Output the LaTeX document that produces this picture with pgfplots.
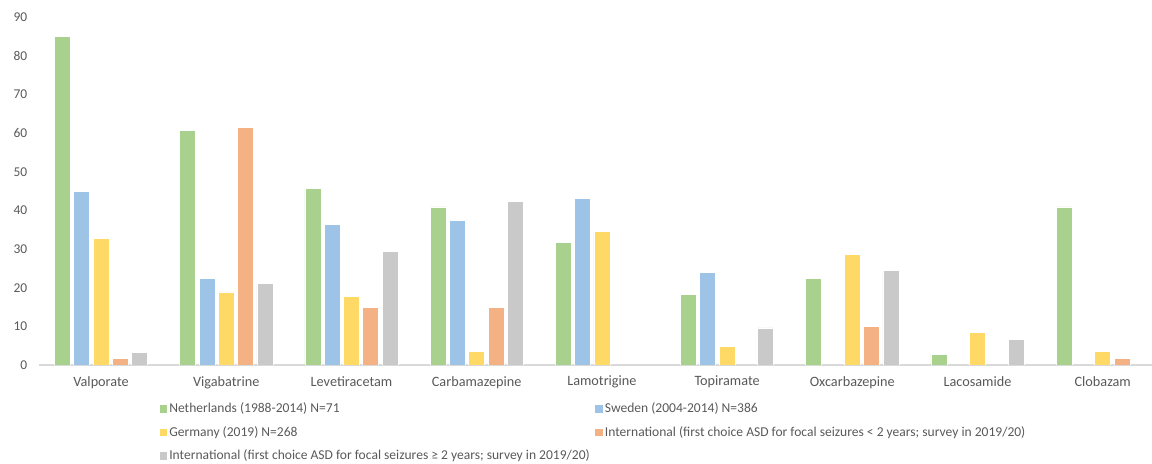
\documentclass[border=0pt]{standalone}
\usepackage{pgfplots}
\pgfplotsset{compat=1.18}
\usepackage{fontspec}
\setmainfont{Carlito}
\definecolor{cgreen}{HTML}{A9D18E}
\definecolor{cblue}{HTML}{9DC3E6}
\definecolor{cyellow}{HTML}{FFD966}
\definecolor{corange}{HTML}{F4B183}
\definecolor{cgray}{HTML}{C9C9C9}
\definecolor{ctext}{HTML}{595959}
\definecolor{cline}{HTML}{D9D9D9}
\begin{document}
\begin{tikzpicture}[x=1bp,y=1bp]
\begin{axis}[
  at={(38.5bp,99bp)}, anchor=south west,
  scale only axis, width=1113.5bp, height=347.7bp,
  xmin=-0.5, xmax=8.394, ymin=0, ymax=90,
  ybar=3.3bp, bar width=16bp,
  axis x line*=bottom, axis y line*=left,
  x axis line style={draw=cline, line width=1.2bp, -},
  y axis line style={draw=none},
  major tick length=0pt,
  xtick={0,...,8},
  xticklabels={Valporate,Vigabatrine,Levetiracetam,Carbamazepine,Lamotrigine,Topiramate,Oxcarbazepine,Lacosamide,Clobazam},
  ytick={0,10,...,90},
  tick label style={font=\fontsize{13.5}{16}\selectfont, text=ctext},
  /pgf/number format/assume math mode=true,
  yticklabel style={inner sep=0pt, xshift=-11bp},
  xticklabel style={inner sep=0pt, yshift=-11bp, font=\fontsize{14.3}{17}\selectfont},
  every axis plot/.append style={draw=white, line width=0.8bp},
  legend columns=2,
  legend cell align=left,
  legend style={draw=none, fill=none, at={(0,0)}, anchor=north west,
    xshift=121bp, yshift=-35.5bp, inner sep=0pt,
    font=\fontsize{13.6}{16}\selectfont, text=ctext,
    row sep=6.5bp,
    nodes={text height=10bp, text depth=3bp, inner sep=2bp}},
  legend image code/.code={\fill[#1, draw=none] (0bp,-3.8bp) rectangle (7.6bp,3.8bp);},
]
\addplot[fill=cgreen] coordinates {(0,85) (1,60.8) (2,45.8) (3,40.9) (4,31.8) (5,18.2) (6,22.4) (7,2.7) (8,40.9)};
\addplot[fill=cblue] coordinates {(0,44.9) (1,22.4) (2,36.4) (3,37.5) (4,43.2) (5,23.9)};
\addplot[fill=cyellow] coordinates {(0,32.7) (1,18.9) (2,17.8) (3,3.6) (4,34.5) (5,4.8) (6,28.5) (7,8.5) (8,3.6)};
\addplot[fill=corange] coordinates {(0,1.6) (1,61.5) (2,14.8) (3,14.8) (6,9.9) (8,1.6)};
\addplot[fill=cgray] coordinates {(0,3.3) (1,21.2) (2,29.4) (3,42.4) (5,9.6) (6,24.5) (7,6.5)};
\addlegendentry{\makebox[424bp][l]{Netherlands (1988-2014) N=71}}
\addlegendentry{Sweden (2004-2014) N=386}
\addlegendentry{\makebox[424bp][l]{Germany (2019) N=268}}
\addlegendentry{International (first choice ASD for focal seizures < 2 years; survey in 2019/20)}
\addlegendentry{\makebox[424bp][l]{International (first choice ASD for focal seizures ≥ 2 years; survey in 2019/20)}}
\end{axis}
\pgfresetboundingbox
\path (0,0) rectangle (1152,464);
\end{tikzpicture}
\end{document}
